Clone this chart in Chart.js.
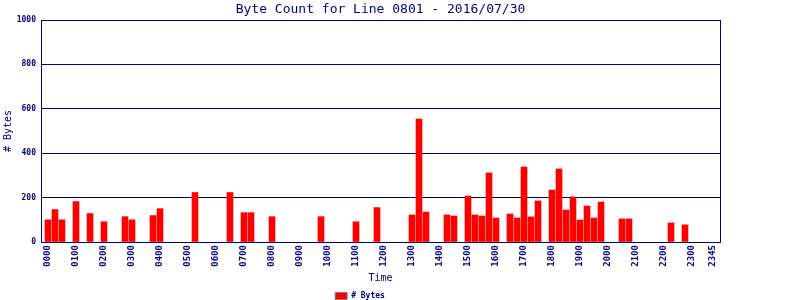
<!DOCTYPE html>
<html>
<head>
<meta charset="utf-8">
<script src="https://cdn.jsdelivr.net/npm/chart.js@4/dist/chart.umd.min.js"></script>
<style>
html,body{margin:0;padding:0;background:#fff;}
#wrap{width:800px;height:300px;}
</style>
</head>
<body>
<div id="wrap"><canvas id="c" width="800" height="300"></canvas></div>
<script>
// ---- data ----
const sampleTimes = ['0000','0015','0030','0100','0130','0200','0245','0300','0345','0400',
  '0515','0630','0700','0715','0800','0945','1100','1145','1300','1315','1330',
  '1415','1430','1500','1515','1530','1545','1600','1630','1645','1700','1715','1730',
  '1800','1815','1830','1845','1900','1915','1930','1945','2030','2045','2215','2245'];
const byteCounts = [100,146,100,182,128,91,114,100,119,150,
  223,223,132,132,114,114,91,155,122,554,135,
  122,117,207,122,117,311,108,126,108,338,113,185,
  234,329,144,203,99,162,108,180,104,104,86,77];
const tickLabels = ['0000','0100','0200','0300','0400','0500','0600','0700','0800','0900',
  '1000','1100','1200','1300','1400','1500','1600','1700','1800','1900','2000','2100',
  '2200','2300','2345'];
const yTicks = [0,200,400,600,800,1000];
const chartTitle = 'Byte Count for Line 0801 - 2016/07/30';
const seriesName = '# Bytes';

const slotOf = t => parseInt(t.slice(0,2),10)*4 + parseInt(t.slice(2),10)/15;
const points = sampleTimes.map((t,i)=>({x: slotOf(t), y: byteCounts[i]}));
const tickSlots = tickLabels.map(slotOf);

const NAVY = '#000080';
const MONO = '"DejaVu Sans Mono", "Liberation Mono", monospace';

const borderPlugin = {
  id: 'rightBorder',
  afterDraw(chart){
    const {ctx, chartArea:a} = chart;
    ctx.save();
    ctx.strokeStyle = NAVY; ctx.lineWidth = 1;
    ctx.beginPath();
    ctx.moveTo(Math.round(a.right)+0.5, a.top);
    ctx.lineTo(Math.round(a.right)+0.5, a.bottom);
    ctx.stroke();
    ctx.restore();
  }
};

new Chart(document.getElementById('c'), {
  type: 'bar',
  data: {
    datasets: [{
      label: seriesName,
      data: points,
      backgroundColor: '#ff0000',
      borderWidth: 0,
      barThickness: 6
    }]
  },
  options: {
    responsive: false,
    animation: false,
    devicePixelRatio: 1,
    layout: {padding: {left: 0, right: 80, top: 0, bottom: -10}},
    plugins: {
      title: {
        display: true, text: chartTitle, color: NAVY, fullSize: false,
        font: {family: MONO, size: 13, weight: 'normal', lineHeight: 1},
        padding: {top: 3, bottom: 4}
      },
      legend: {
        display: true, position: 'bottom',
        labels: {
          color: NAVY, font: {family: MONO, size: 8, weight: 'bold'},
          boxWidth: 12, boxHeight: 7, padding: 2,
          generateLabels(chart){
            const items = Chart.defaults.plugins.legend.labels.generateLabels(chart);
            items.forEach(it=>{ it.strokeStyle = '#808080'; it.lineWidth = 1; });
            return items;
          }
        }
      },
      tooltip: {enabled: false}
    },
    scales: {
      x: {
        type: 'linear', min: -1, max: 96, offset: false,
        grid: {display: false, offset: false, drawTicks: false},
        border: {display: true, color: NAVY, width: 1},
        afterBuildTicks(scale){ scale.ticks = tickSlots.map(v=>({value: v})); },
        afterFit(scale){ scale.height = 48; },
        ticks: {
          autoSkip: false, maxRotation: 90, minRotation: 90, padding: 3,
          color: NAVY, font: {family: MONO, size: 9, weight: 'bold'},
          callback: (v)=>{ const i = tickSlots.indexOf(v); return i>=0 ? tickLabels[i] : ''; }
        },
        title: {display: true, text: 'Time', color: NAVY,
          font: {family: MONO, size: 10}, padding: {top: 0, bottom: 6}}
      },
      y: {
        min: 0, max: 1000,
        afterBuildTicks(scale){ scale.ticks = yTicks.map(v=>({value: v})); },
        afterFit(scale){ scale.width = 41; },
        grid: {color: NAVY, lineWidth: 1, drawTicks: false},
        border: {display: true, color: NAVY, width: 1},
        ticks: {padding: 5, color: NAVY, font: {family: MONO, size: 8, weight: 'bold'},
          callback: v => String(v)},
        title: {display: true, text: seriesName, color: NAVY,
          font: {family: MONO, size: 10}, padding: {top: 2, bottom: 0}}
      }
    }
  },
  plugins: [borderPlugin]
});
</script>
</body>
</html>
